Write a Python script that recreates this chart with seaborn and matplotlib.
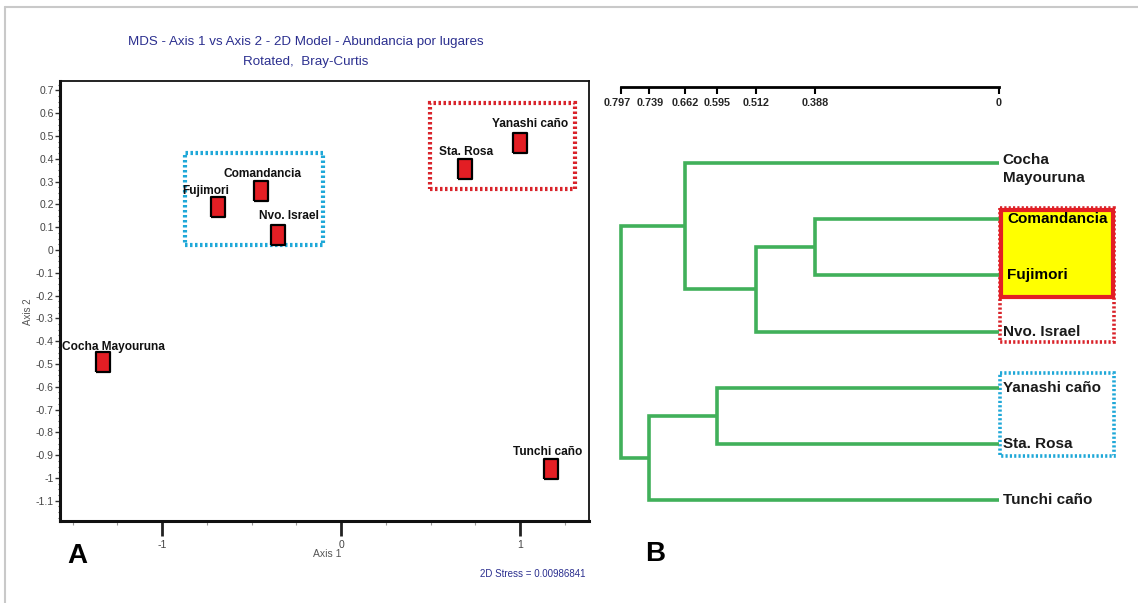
import numpy as np
import pandas as pd
import matplotlib
matplotlib.use("Agg")
import matplotlib.pyplot as plt
import matplotlib.transforms as mtransforms
import seaborn as sns
from matplotlib.patches import Rectangle
from matplotlib.lines import Line2D
from matplotlib.ticker import MultipleLocator, FixedLocator, FixedFormatter

# ---------------- data ----------------
# MDS panel
sites = ["Cocha Mayouruna", "Fujimori", "Comandancia", "Nvo. Israel",
         "Sta. Rosa", "Yanashi caño", "Tunchi caño"]
axis1 = [-1.33, -0.69, -0.45, -0.35, 0.69, 1.00, 1.17]
axis2 = [-0.49, 0.19, 0.26, 0.066, 0.355, 0.47, -0.96]
stress_text = "2D Stress = 0.00986841"

# Dendrogram panel (leaf order top -> bottom)
leaf_labels = ["Cocha\nMayouruna", "Comandancia", "Fujimori", "Nvo. Israel",
               "Yanashi caño", "Sta. Rosa", "Tunchi caño"]
# merges: (child a, child b, height); leaves are 0..6, clusters 7..
merge_a = [1, 4, 7, 0, 8, 10]
merge_b = [2, 5, 3, 9, 6, 11]
merge_h = [0.388, 0.595, 0.512, 0.662, 0.739, 0.797]
scale_ticks = [0.797, 0.739, 0.662, 0.595, 0.512, 0.388, 0]
scale_labels = ["0.797", "0.739", "0.662", "0.595", "0.512", "0.388", "0"]

# ---------------- figure ----------------
sns.set_theme(style="white")
plt.rcParams["font.family"] = ["Liberation Sans", "DejaVu Sans"]
W, H = 1138, 603
fig = plt.figure(figsize=(W / 100, H / 100), dpi=100)
fig.patch.set_facecolor("white")

def px_rect(x0, y0, x1, y1):
    return [x0 / W, 1 - y1 / H, (x1 - x0) / W, (y1 - y0) / H]

# figure border (left & top)
fig.add_artist(Line2D([5 / W, 5 / W], [0, 1 - 7 / H], transform=fig.transFigure,
                      color="#c9c9c9", lw=1.5))
fig.add_artist(Line2D([5 / W, 1], [1 - 7 / H, 1 - 7 / H], transform=fig.transFigure,
                      color="#c9c9c9", lw=1.5))

dotted = (0, (0.6, 0.6))

# ---------------- panel A: MDS ----------------
axA = fig.add_axes(px_rect(60, 81, 589, 521))
df = pd.DataFrame({"site": sites, "a1": axis1, "a2": axis2})
rect_marker = [(-0.68, -1), (0.68, -1), (0.68, 1), (-0.68, 1), (-0.68, -1)]
sns.scatterplot(data=df, x="a1", y="a2", ax=axA, marker=rect_marker, s=200,
                color="#e31e24", edgecolor="black", linewidth=1.6, zorder=5,
                legend=False)
axA.set_xlim(-1.570, 1.385)
axA.set_ylim(-1.189, 0.741)

label_off = {"Cocha Mayouruna": (10, 15), "Fujimori": (-12, 16),
             "Comandancia": (2, 17), "Nvo. Israel": (11, 19),
             "Sta. Rosa": (1, 17), "Yanashi caño": (10, 19),
             "Tunchi caño": (-3, 17)}
for s, x, y in zip(sites, axis1, axis2):
    dx, dy = label_off[s]
    axA.annotate(s, (x, y), xytext=(dx, dy), textcoords="offset pixels",
                 ha="center", va="center", fontsize=8.6, fontweight="bold",
                 color="#111111", zorder=6)

# dotted group boxes
axA.add_patch(Rectangle((-0.872, 0.022), 0.771, 0.403, fill=False,
                        edgecolor="#1fa8d8", lw=3, linestyle=dotted,
                        capstyle="butt", zorder=3))
axA.add_patch(Rectangle((0.497, 0.268), 0.810, 0.377, fill=False,
                        edgecolor="#d9232a", lw=3, linestyle=dotted,
                        capstyle="butt", zorder=3))

# axes styling
for side in ["top", "right"]:
    axA.spines[side].set_linewidth(1.3)
    axA.spines[side].set_color("#111111")
for side in ["left", "bottom"]:
    axA.spines[side].set_linewidth(2.2)
    axA.spines[side].set_color("#111111")
yt = np.round(np.arange(-1.1, 0.71, 0.1), 2)
axA.yaxis.set_major_locator(FixedLocator(yt))
axA.yaxis.set_major_formatter(FixedFormatter([f"{v:g}" for v in yt]))
axA.yaxis.set_minor_locator(MultipleLocator(0.025))
xt = [-1, 0, 1]
axA.xaxis.set_major_locator(FixedLocator(xt))
axA.xaxis.set_major_formatter(FixedFormatter(["-1", "0", "1"]))
axA.xaxis.set_minor_locator(MultipleLocator(0.25))
axA.tick_params(axis="y", which="major", direction="out", length=3.5, width=1,
                color="#333333", labelsize=7.5, labelcolor="#444444", pad=1,
                left=True)
axA.tick_params(axis="y", which="minor", direction="out", length=1.8, width=0.8,
                color="#555555", left=True)
axA.tick_params(axis="x", which="major", direction="out", length=11, width=2,
                color="#222222", labelsize=7.5, labelcolor="#444444", pad=3,
                bottom=True)
axA.tick_params(axis="x", which="minor", direction="out", length=3, width=0.8,
                color="#999999", bottom=True)
axA.set_xlabel("")
axA.set_ylabel("")
fig.text(327 / W, 1 - 554 / H, "Axis 1", fontsize=7.5, color="#555555",
         ha="center", va="center")
fig.text(28 / W, 1 - 312 / H, "Axis 2", fontsize=7, color="#555555",
         ha="center", va="center", rotation=90)
fig.text(586 / W, 1 - 574 / H, stress_text, fontsize=7, color="#2b2f8f",
         ha="right", va="center")
fig.text(306 / W, 1 - 42 / H, "MDS - Axis 1 vs Axis 2 - 2D Model - Abundancia por lugares",
         fontsize=9.6, color="#2b2f8f", ha="center", va="center")
fig.text(306 / W, 1 - 62 / H, "Rotated,  Bray-Curtis",
         fontsize=9.6, color="#2b2f8f", ha="center", va="center")
fig.text(77 / W, 1 - 556 / H, "A", fontsize=20, fontweight="bold",
         color="black", ha="center", va="center")

# ---------------- panel B: dendrogram ----------------
axB = fig.add_axes(px_rect(621, 87, 999, 520))
axB.set_xlim(0.797, 0)
axB.set_ylim(6.352, -1.352)

n_leaves = len(leaf_labels)
node_y = {i: float(i) for i in range(n_leaves)}
node_h = {i: 0.0 for i in range(n_leaves)}
green = "#41b05a"
for k, (a, b, h) in enumerate(zip(merge_a, merge_b, merge_h)):
    nid = n_leaves + k
    xs = [node_h[a], h, h, node_h[b]]
    ys = [node_y[a], node_y[a], node_y[b], node_y[b]]
    axB.plot(xs, ys, color=green, lw=2.6, solid_capstyle="butt",
             solid_joinstyle="miter", zorder=3, clip_on=False)
    node_y[nid] = (node_y[a] + node_y[b]) / 2
    node_h[nid] = h

# boxes around leaf labels (outside axes)
axB.add_patch(Rectangle((-0.002, 0.80), -0.240, 2.38, fill=False,
                        edgecolor="#d9232a", lw=2.6, linestyle=dotted,
                        capstyle="butt", clip_on=False, zorder=2))
axB.add_patch(Rectangle((-0.004, 0.836), -0.236, 1.543, facecolor="#ffff00",
                        edgecolor="#e31e24", lw=3, clip_on=False, zorder=3))
axB.add_patch(Rectangle((-0.002, 3.73), -0.240, 1.48, fill=False,
                        edgecolor="#1fa8d8", lw=2.6, linestyle=dotted,
                        capstyle="butt", clip_on=False, zorder=2))

for i, lab in enumerate(leaf_labels):
    bold_box = lab in ("Comandancia", "Fujimori")
    xo = -0.017 if bold_box else -0.008
    yo = 0.1 if "\n" in lab else 0.0
    axB.text(xo, i + yo, lab, ha="left", va="center", fontsize=11,
             fontweight="bold", color="black" if bold_box else "#1a1a1a",
             clip_on=False, zorder=4, linespacing=1.35)

for side in ["top", "left", "right"]:
    axB.spines[side].set_visible(False)
axB.spines["bottom"].set_position(("axes", 1.0))
axB.spines["bottom"].set_linewidth(2)
axB.spines["bottom"].set_color("black")
axB.set_yticks([])
axB.xaxis.set_major_locator(FixedLocator(scale_ticks))
axB.xaxis.set_major_formatter(FixedFormatter(scale_labels))
axB.tick_params(axis="x", which="major", direction="out", length=5, width=1.5,
                color="black", labelsize=7.8, pad=3, bottom=True)
shift_px = {0: -4, 1: 2}
for i, t in enumerate(axB.get_xticklabels()):
    t.set_fontweight("bold")
    if i in shift_px:
        t.set_transform(t.get_transform() + mtransforms.ScaledTranslation(
            shift_px[i] / 100, 0, fig.dpi_scale_trans))
axB.set_xlabel("")
axB.set_ylabel("")
axB.patch.set_alpha(0)
fig.text(655 / W, 1 - 554 / H, "B", fontsize=20, fontweight="bold",
         color="black", ha="center", va="center")

fig.savefig("out.png", dpi=100, facecolor="white")
